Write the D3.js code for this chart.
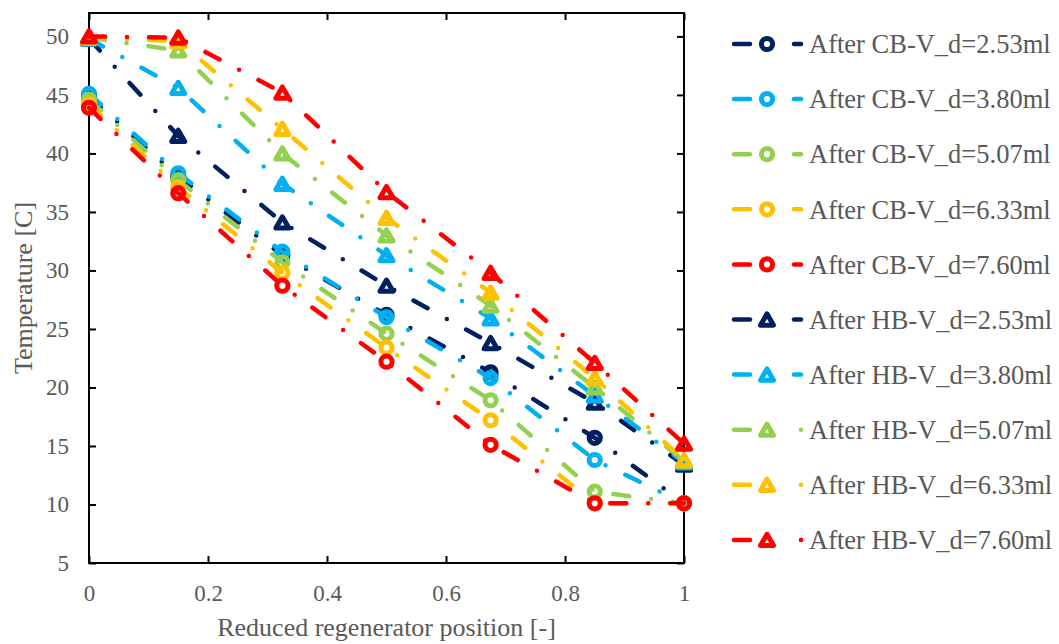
<!DOCTYPE html>
<html>
<head>
<meta charset="utf-8">
<script src="https://cdn.jsdelivr.net/npm/d3@7"></script>
<style>
  html, body { margin: 0; padding: 0; background: #fff; }
  svg { display: block; }
</style>
</head>
<body>
<svg id="chart" width="1059" height="644"></svg>
<script>
// Reduced position along the regenerator
const positions = [0, 0.15, 0.325, 0.5, 0.675, 0.85, 1];

// Temperature profiles [C] after the cold blow (CB) and hot blow (HB)
const cb253 = [44.9, 38.0, 31.3, 26.2, 21.3, 15.7, 10.1];
const cb380 = [45.1, 38.3, 31.6, 26.0, 20.8, 13.8, 10.1];
const cb507 = [44.6, 37.7, 30.7, 24.6, 18.9, 11.1, 10.1];
const cb633 = [44.2, 37.1, 29.8, 23.4, 17.2, 10.1, 10.1];
const cb760 = [43.9, 36.6, 28.7, 22.2, 15.1, 10.1, 10.1];
const hb253 = [49.8, 41.5, 34.1, 28.7, 23.8, 18.7, 13.4];
const hb380 = [49.8, 45.6, 37.4, 31.3, 25.9, 19.3, 13.6];
const hb507 = [49.9, 48.8, 40.0, 33.0, 27.0, 20.0, 13.7];
const hb633 = [49.9, 49.6, 42.1, 34.5, 28.1, 20.8, 13.8];
const hb760 = [50.0, 49.9, 45.2, 36.7, 29.8, 22.1, 15.2];

const seriesNames = [
  "After CB-V_d=2.53ml", "After CB-V_d=3.80ml", "After CB-V_d=5.07ml",
  "After CB-V_d=6.33ml", "After CB-V_d=7.60ml",
  "After HB-V_d=2.53ml", "After HB-V_d=3.80ml", "After HB-V_d=5.07ml",
  "After HB-V_d=6.33ml", "After HB-V_d=7.60ml"
];
const seriesValues = [cb253, cb380, cb507, cb633, cb760, hb253, hb380, hb507, hb633, hb760];

const xTicks = [0, 0.2, 0.4, 0.6, 0.8, 1];
const yTicks = [5, 10, 15, 20, 25, 30, 35, 40, 45, 50];

const palette = ["#002060", "#00B0F0", "#92D050", "#FFC000", "#FF0000"];
const textColor = "#595959";
const font = "'Liberation Serif', 'Times New Roman', serif";

const series = seriesNames.map((name, i) => ({
  name,
  values: seriesValues[i],
  color: palette[i % 5],
  marker: i < 5 ? "circle" : "triangle",
  legendTail: i < 7 ? "dash" : "dot"
}));

const svg = d3.select("#chart");
const plotLeft = 89, plotRight = 684, plotTop = 13, plotBottom = 563;

const x = d3.scaleLinear().domain([0, 1]).range([plotLeft, plotRight]);
const y = d3.scaleLinear().domain([5, 52]).range([plotBottom, plotTop]);

// Frame with inward ticks on all four sides
const tickLen = 7;
const axisStyle = g => {
  g.select(".domain").remove();
  g.selectAll(".tick line").attr("stroke", "#000").attr("stroke-width", 2);
  g.selectAll(".tick text")
    .attr("fill", textColor)
    .style("font-family", font)
    .style("font-size", "23px");
};

svg.append("g")
  .attr("transform", `translate(0,${plotBottom})`)
  .call(d3.axisBottom(x).tickValues(xTicks).tickFormat(d3.format("~g"))
    .tickSizeInner(-tickLen).tickSizeOuter(0).tickPadding(22))
  .call(axisStyle);

svg.append("g")
  .attr("transform", `translate(0,${plotTop})`)
  .call(d3.axisTop(x).tickValues(xTicks).tickFormat("")
    .tickSizeInner(-tickLen).tickSizeOuter(0))
  .call(axisStyle);

svg.append("g")
  .attr("transform", `translate(${plotLeft},0)`)
  .call(d3.axisLeft(y).tickValues(yTicks)
    .tickSizeInner(-tickLen).tickSizeOuter(0).tickPadding(20))
  .call(axisStyle);

svg.append("g")
  .attr("transform", `translate(${plotRight},0)`)
  .call(d3.axisRight(y).tickValues(yTicks).tickFormat("")
    .tickSizeInner(-tickLen).tickSizeOuter(0))
  .call(axisStyle);

svg.append("rect")
  .attr("x", plotLeft).attr("y", plotTop)
  .attr("width", plotRight - plotLeft).attr("height", plotBottom - plotTop)
  .attr("fill", "none").attr("stroke", "#000").attr("stroke-width", 2);

// Axis titles
svg.append("text")
  .attr("x", (plotLeft + plotRight) / 2).attr("y", 636)
  .attr("text-anchor", "middle")
  .attr("fill", textColor)
  .style("font-family", font).style("font-size", "26px")
  .text("Reduced regenerator position [-]");

svg.append("text")
  .attr("transform", `translate(32,${(plotTop + plotBottom) / 2}) rotate(-90)`)
  .attr("text-anchor", "middle")
  .attr("fill", textColor)
  .style("font-family", font).style("font-size", "26px")
  .text("Temperature [C]");

// Marker shapes
const triSide = 13, triH = triSide * Math.sqrt(3) / 2;
const trianglePath = `M0,${-triH / 2}L${triSide / 2},${triH / 2}L${-triSide / 2},${triH / 2}Z`;

function drawMarker(g, kind, color) {
  if (kind === "circle") {
    g.append("circle").attr("r", 5.6)
      .attr("fill", "none").attr("stroke", color).attr("stroke-width", 5);
  } else {
    g.append("path").attr("d", trianglePath)
      .attr("fill", "none").attr("stroke", color).attr("stroke-width", 5)
      .attr("stroke-linejoin", "round");
  }
}

// Long-dash-dot lines with markers
const line = d3.line().x((d, i) => x(positions[i])).y(d => y(d));
const plot = svg.append("g");

series.forEach(s => {
  const g = plot.append("g");
  g.append("path")
    .datum(s.values)
    .attr("d", line)
    .attr("fill", "none")
    .attr("stroke", s.color)
    .attr("stroke-width", 4.5)
    .attr("stroke-linecap", "round")
    .attr("stroke-dasharray", "16 22 0 22");
  s.values.forEach((v, i) => {
    const m = g.append("g").attr("transform", `translate(${x(positions[i])},${y(v)})`);
    drawMarker(m, s.marker, s.color);
  });
});

// Legend
const legend = svg.append("g");
series.forEach((s, i) => {
  const cy = 44 + i * 55.1;
  const row = legend.append("g").attr("transform", `translate(0,${cy})`);
  row.append("line")
    .attr("x1", 734).attr("x2", 750).attr("y1", 0).attr("y2", 0)
    .attr("stroke", s.color).attr("stroke-width", 4.5).attr("stroke-linecap", "round");
  if (s.legendTail === "dash") {
    row.append("line")
      .attr("x1", 794).attr("x2", 801).attr("y1", 0).attr("y2", 0)
      .attr("stroke", s.color).attr("stroke-width", 4.5).attr("stroke-linecap", "round");
  } else {
    row.append("circle").attr("cx", 801).attr("cy", 0).attr("r", 2.3).attr("fill", s.color);
  }
  const m = row.append("g").attr("transform", "translate(767,0)");
  drawMarker(m, s.marker, s.color);
  row.append("text")
    .attr("x", 809).attr("y", 0).attr("dy", "0.35em")
    .attr("fill", textColor)
    .style("font-family", font).style("font-size", "26.5px")
    .text(s.name);
});
</script>
</body>
</html>
